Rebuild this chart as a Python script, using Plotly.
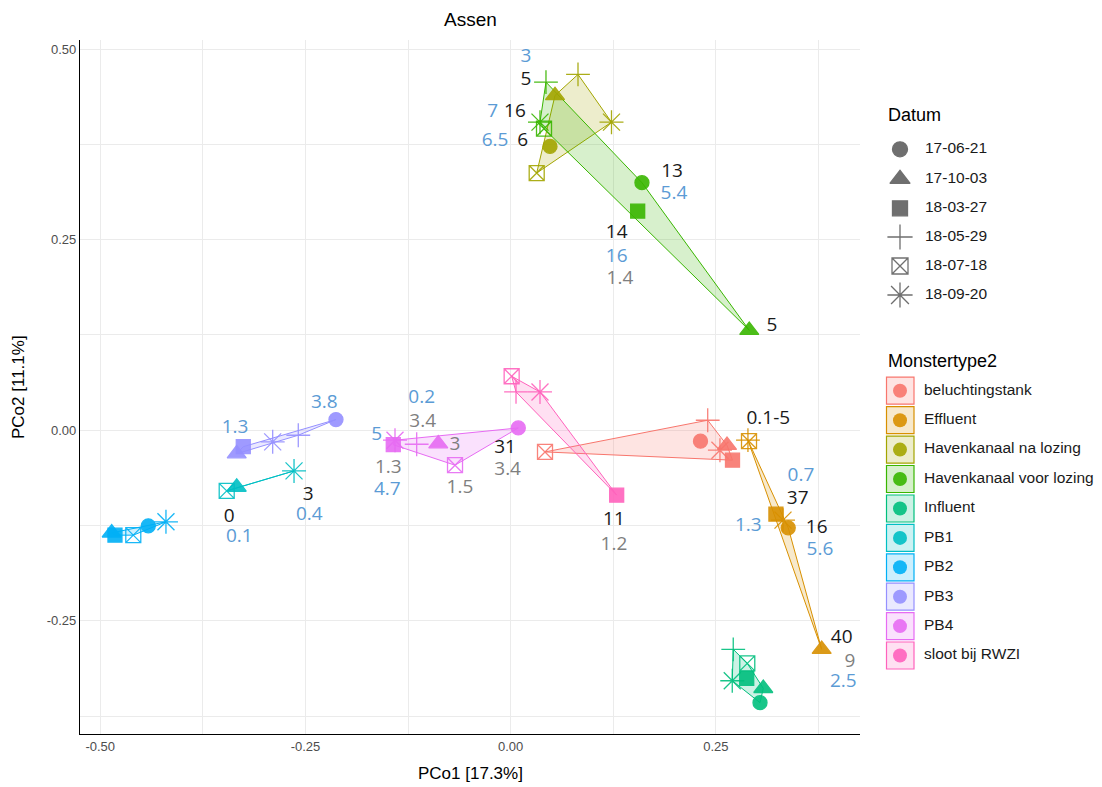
import plotly.graph_objects as go

# ---------------------------------------------------------------- data
groups = ["beluchtingstank", "Effluent", "Havenkanaal na lozing",
          "Havenkanaal voor lozing", "Influent", "PB1", "PB2", "PB3", "PB4",
          "sloot bij RWZI"]
dates = ["17-06-21", "17-10-03", "18-03-27", "18-05-29", "18-07-18", "18-09-20"]

sample_group = (
    ["beluchtingstank"] * 6
    + ["Effluent"] * 6
    + ["Havenkanaal na lozing"] * 5
    + ["Havenkanaal voor lozing"] * 6
    + ["Influent"] * 6
    + ["PB1"] * 3
    + ["PB2"] * 5
    + ["PB3"] * 5
    + ["PB4"] * 6
    + ["sloot bij RWZI"] * 4
)
sample_date = [
    # beluchtingstank
    "17-06-21", "17-10-03", "18-03-27", "18-05-29", "18-07-18", "18-09-20",
    # Effluent
    "17-06-21", "17-10-03", "18-03-27", "18-05-29", "18-07-18", "18-09-20",
    # Havenkanaal na lozing
    "17-06-21", "17-10-03", "18-05-29", "18-07-18", "18-09-20",
    # Havenkanaal voor lozing
    "17-06-21", "17-10-03", "18-03-27", "18-05-29", "18-07-18", "18-09-20",
    # Influent
    "17-06-21", "17-10-03", "18-03-27", "18-05-29", "18-07-18", "18-09-20",
    # PB1
    "17-10-03", "18-07-18", "18-09-20",
    # PB2
    "17-06-21", "17-10-03", "18-03-27", "18-07-18", "18-09-20",
    # PB3
    "17-06-21", "17-10-03", "18-03-27", "18-05-29", "18-09-20",
    # PB4
    "17-06-21", "17-10-03", "18-03-27", "18-05-29", "18-07-18", "18-09-20",
    # sloot bij RWZI
    "18-03-27", "18-05-29", "18-07-18", "18-09-20",
]
pco1 = [
    0.2312, 0.2635, 0.2702, 0.2400, 0.0418, 0.2549,
    0.3381, 0.3788, 0.3231, 0.2890, 0.2903, 0.3317,
    0.0479, 0.0540, 0.0820, 0.0317, 0.1228,
    0.1599, 0.2906, 0.1547, 0.0430, 0.0406, 0.0357,
    0.3037, 0.3077, 0.2875, 0.2711, 0.2882, 0.2699,
    -0.3337, -0.3459, -0.2639,
    -0.4414, -0.4860, -0.4820, -0.4597, -0.4199,
    -0.2128, -0.3337, -0.3257, -0.2587, -0.2899,
    0.0093, -0.0882, -0.1430, -0.1145, -0.0678, -0.1409,
    0.1291, 0.0065, 0.0012, 0.0357,
]
pco2 = [
    -0.0144, -0.0197, -0.0393, 0.0131, -0.0285, -0.0262,
    -0.1281, -0.2875, -0.1101, -0.0131, -0.0144, -0.1180,
    0.3724, 0.4392, 0.4668, 0.3374, 0.4042,
    0.3248, 0.1311, 0.2875, 0.4567, 0.3956, 0.4042,
    -0.3575, -0.3387, -0.3256, -0.2875, -0.3059, -0.3287,
    -0.0747, -0.0796, -0.0534,
    -0.1255, -0.1347, -0.1377, -0.1377, -0.1202,
    0.0140, -0.0308, -0.0216, -0.0066, -0.0153,
    0.0030, -0.0177, -0.0190, -0.0184, -0.0459, -0.0131,
    -0.0852, 0.0502, 0.0708, 0.0502,
]

# measurement labels placed next to the samples
label_text = ["3", "5", "7", "16", "6.5", "6", "13", "5.4", "14", "16", "1.4",
              "5", "3.8", "1.3", "3", "0.4", "0", "0.1", "0.2", "3.4", "5",
              "3", "31", "1.3", "3.4", "4.7", "1.5", "11", "1.2", "0.1-5",
              "0.7", "37", "1.3", "16", "5.6", "40", "9", "2.5"]
label_kind = ["b", "k", "b", "k", "b", "k", "k", "b", "k", "b", "g",
              "k", "b", "b", "k", "b", "k", "b", "b", "g", "b",
              "g", "k", "g", "g", "b", "g", "k", "g", "k",
              "b", "k", "b", "k", "b", "k", "g", "b"]
label_x = [0.0186, 0.0186, -0.0219, 0.0052, -0.0191, 0.0146, 0.1965, 0.1989,
           0.1291, 0.1291, 0.1331, 0.3183, -0.2270, -0.3358, -0.2465, -0.2453,
           -0.3428, -0.3306, -0.1084, -0.1072, -0.1632, -0.0678, -0.0069,
           -0.1491, -0.0037, -0.1503, -0.0618, 0.1258, 0.1258, 0.3138, 0.3536,
           0.3496, 0.2894, 0.3727, 0.3767, 0.4032, 0.4133, 0.4051]
label_y = [0.4895, 0.4598, 0.4173, 0.4173, 0.3793, 0.3793, 0.3387, 0.3094,
           0.2579, 0.2272, 0.1976, 0.1364, 0.0358, 0.0022, -0.0852, -0.1114,
           -0.1137, -0.1399, 0.0416, 0.0109, -0.0066, -0.0197, -0.0240,
           -0.0502, -0.0524, -0.0787, -0.0757, -0.1180, -0.1508, 0.0140,
           -0.0603, -0.0909, -0.1255, -0.1289, -0.1573, -0.2731, -0.3038,
           -0.3313]

# ---------------------------------------------------------------- styling
group_colors = ["#F8766D", "#D89000", "#A3A500", "#39B600", "#00BF7D",
                "#00BFC4", "#00B0F6", "#9590FF", "#E76BF3", "#FF62BC"]
date_symbol = {"17-06-21": "circle", "17-10-03": "triangle-up",
               "18-03-27": "square", "18-05-29": "cross-thin",
               "18-07-18": "square-x-open", "18-09-20": "asterisk"}
date_size = {"17-06-21": 14, "17-10-03": 16.5, "18-03-27": 14,
             "18-05-29": 17, "18-07-18": 15, "18-09-20": 20}
label_colors = {"k": "#1A1A1A", "b": "#5B9BD5", "g": "#7F7F7F"}

W, H = 1102, 787
PANEL_L, PANEL_R, PANEL_T, PANEL_B = 80, 860, 40, 734
X_RANGE = [-0.5246, 0.4255]
Y_RANGE = [-0.3986, 0.5120]
AXIS_FONT = "Liberation Sans, Arial, sans-serif"
LABEL_FONT = "Open Sans, sans-serif"


def rgba(hex_color, a):
    h = hex_color.lstrip("#")
    r, g, b = int(h[0:2], 16), int(h[2:4], 16), int(h[4:6], 16)
    return f"rgba({r},{g},{b},{a})"


def convex_hull(points):
    pts = sorted(set(points))
    if len(pts) <= 2:
        return pts

    def cross(o, a, b):
        return (a[0] - o[0]) * (b[1] - o[1]) - (a[1] - o[1]) * (b[0] - o[0])

    lower, upper = [], []
    for p in pts:
        while len(lower) >= 2 and cross(lower[-2], lower[-1], p) <= 0:
            lower.pop()
        lower.append(p)
    for p in reversed(pts):
        while len(upper) >= 2 and cross(upper[-2], upper[-1], p) <= 0:
            upper.pop()
        upper.append(p)
    return lower[:-1] + upper[:-1]


fig = go.Figure()

# hull polygons for every sample type
for g, col in zip(groups, group_colors):
    pts = [(x, y) for gg, x, y in zip(sample_group, pco1, pco2) if gg == g]
    hull = convex_hull(pts)
    hx = [p[0] for p in hull] + [hull[0][0]]
    hy = [p[1] for p in hull] + [hull[0][1]]
    fig.add_trace(go.Scatter(
        x=hx, y=hy, mode="lines", fill="toself", fillcolor=rgba(col, 0.2),
        line=dict(color=col, width=1), hoverinfo="skip", showlegend=False))

# sample points
for g, col in zip(groups, group_colors):
    idx = [i for i, gg in enumerate(sample_group) if gg == g]
    fig.add_trace(go.Scatter(
        x=[pco1[i] for i in idx], y=[pco2[i] for i in idx], mode="markers",
        marker=dict(symbol=[date_symbol[sample_date[i]] for i in idx],
                    size=[date_size[sample_date[i]] for i in idx],
                    color=col, opacity=0.9,
                    line=dict(color=col, width=1.3)),
        text=[sample_date[i] for i in idx], name=g, showlegend=False))

# value labels
for kind, col in label_colors.items():
    idx = [i for i, k in enumerate(label_kind) if k == kind]
    fig.add_trace(go.Scatter(
        x=[label_x[i] for i in idx], y=[label_y[i] for i in idx],
        text=[label_text[i] for i in idx], mode="text",
        textposition="middle center",
        textfont=dict(family=LABEL_FONT, size=19, color=col),
        hoverinfo="skip", showlegend=False))

# ---------------------------------------------------------------- legends (pixel axes)
LEG_SYM_X, LEG_TEXT_X = 900, 925
datum_y = [149.3, 179, 208.3, 237, 266, 295]
fig.add_trace(go.Scatter(
    x=[LEG_SYM_X] * len(dates), y=datum_y, mode="markers",
    marker=dict(symbol=[date_symbol[d] for d in dates],
                size=[date_size[d] + 1 for d in dates], color="#333333",
                line=dict(color="#333333", width=1.3)),
    xaxis="x2", yaxis="y2", hoverinfo="skip", showlegend=False))
fig.add_trace(go.Scatter(
    x=[LEG_TEXT_X] * len(dates), y=datum_y, text=dates, mode="text",
    textposition="middle right",
    textfont=dict(family=AXIS_FONT, size=15.5, color="#1A1A1A"),
    xaxis="x2", yaxis="y2", hoverinfo="skip", showlegend=False))

type_y = [390.7, 420.2, 449.6, 479.0, 508.5, 537.9, 567.3, 596.7, 626.1, 655.5]
shapes = []
for yc, col in zip(type_y, group_colors):
    shapes.append(dict(type="rect", xref="x2", yref="y2",
                       x0=886.5, x1=914, y0=yc - 13.5, y1=yc + 13.5,
                       fillcolor=rgba(col, 0.2), line=dict(color=col, width=1.2),
                       layer="below"))
fig.add_trace(go.Scatter(
    x=[LEG_SYM_X] * len(groups), y=type_y, mode="markers",
    marker=dict(symbol="circle", size=14, color=group_colors, opacity=0.9),
    xaxis="x2", yaxis="y2", hoverinfo="skip", showlegend=False))
fig.add_trace(go.Scatter(
    x=[924] * len(groups), y=type_y, text=groups, mode="text",
    textposition="middle right",
    textfont=dict(family=AXIS_FONT, size=15.5, color="#1A1A1A"),
    xaxis="x2", yaxis="y2", hoverinfo="skip", showlegend=False))


def paper_note(text, px, py, size, xanchor="center", angle=0):
    return dict(text=text, x=px / W, y=1 - py / H, xref="paper", yref="paper",
                xanchor=xanchor, yanchor="middle", showarrow=False,
                textangle=angle,
                font=dict(family=AXIS_FONT, size=size, color="#000000"))


annotations = [
    paper_note("Assen", (PANEL_L + PANEL_R) / 2, 20, 19),
    paper_note("PCo1 [17.3%]", (PANEL_L + PANEL_R) / 2, 773, 17),
    paper_note("PCo2 [11.1%]", 18, (PANEL_T + PANEL_B) / 2, 17, angle=-90),
    paper_note("Datum", 886, 115, 18, xanchor="left"),
    paper_note("Monstertype2", 886, 361, 18, xanchor="left"),
]

grid = "#EBEBEB"
fig.update_layout(
    width=W, height=H, margin=dict(l=0, r=0, t=0, b=0),
    paper_bgcolor="white", plot_bgcolor="rgba(0,0,0,0)",
    shapes=shapes, annotations=annotations, showlegend=False,
    xaxis=dict(domain=[PANEL_L / W, PANEL_R / W], range=X_RANGE,
               tickmode="array", tickvals=[-0.5, -0.25, 0, 0.25],
               ticktext=["-0.50", "-0.25", "0.00", "0.25"],
               showgrid=True, gridcolor=grid, gridwidth=1.1,
               minor=dict(tickvals=[-0.375, -0.125, 0.125, 0.375],
                          showgrid=True, gridcolor=grid, gridwidth=0.6),
               zeroline=False, showline=True, linecolor="#000000",
               linewidth=1.1, ticks="",
               tickfont=dict(family=AXIS_FONT, size=13, color="#4D4D4D")),
    yaxis=dict(domain=[1 - PANEL_B / H, 1 - PANEL_T / H], range=Y_RANGE,
               tickmode="array", tickvals=[-0.25, 0, 0.25, 0.5],
               ticktext=["-0.25", "0.00", "0.25", "0.50"],
               showgrid=True, gridcolor=grid, gridwidth=1.1,
               minor=dict(tickvals=[-0.375, -0.125, 0.125, 0.375],
                          showgrid=True, gridcolor=grid, gridwidth=0.6),
               zeroline=False, showline=True, linecolor="#000000",
               linewidth=1.1, ticks="",
               tickfont=dict(family=AXIS_FONT, size=13, color="#4D4D4D")),
    xaxis2=dict(domain=[0, 1], range=[0, W], visible=False, fixedrange=True),
    yaxis2=dict(domain=[0, 1], range=[H, 0], visible=False, fixedrange=True),
)

fig.write_html("out.html")
